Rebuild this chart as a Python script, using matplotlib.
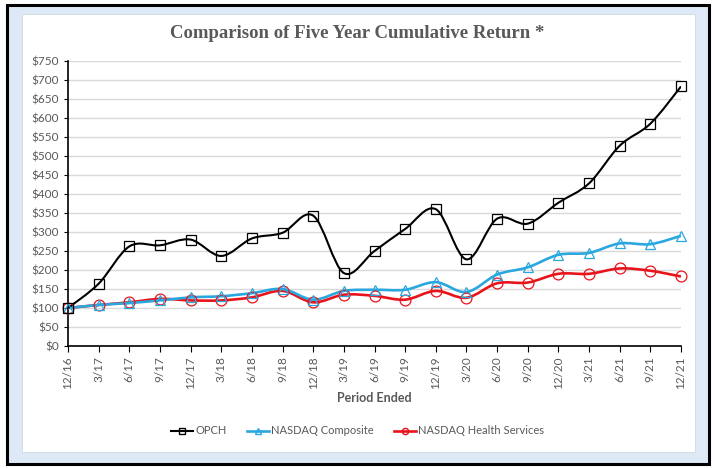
import matplotlib
matplotlib.use("Agg")
import matplotlib.pyplot as plt
import numpy as np
from matplotlib.path import Path
from matplotlib.patches import PathPatch, Rectangle
from matplotlib.lines import Line2D

periods = ["12/16", "3/17", "6/17", "9/17", "12/17", "3/18", "6/18", "9/18", "12/18",
           "3/19", "6/19", "9/19", "12/19", "3/20", "6/20", "9/20", "12/20",
           "3/21", "6/21", "9/21", "12/21"]
opch = [100, 164, 262, 265, 280, 237, 283, 298, 343, 192, 250, 308, 360, 228, 335,
        322, 377, 428, 527, 585, 683]
nasdaq_comp = [100, 108, 113, 120, 128, 131, 139, 150, 122, 145, 148, 148, 168, 142,
               188, 207, 240, 245, 270, 268, 290]
nasdaq_health = [100, 108, 115, 124, 120, 120, 128, 145, 115, 135, 132, 122, 145, 127,
                 165, 167, 190, 190, 204, 198, 183]
y_ticks = list(range(0, 751, 50))

GRAY = "#595959"
plt.rcParams['font.family'] = ['Lato', 'DejaVu Sans']


def smooth_path(xs, ys):
    # Excel style smoothed line: Catmull-Rom segments as cubic Beziers
    pts = np.column_stack([xs, ys]).astype(float)
    n = len(pts)
    verts = [pts[0]]
    codes = [Path.MOVETO]
    for i in range(n - 1):
        p0 = pts[max(i - 1, 0)]
        p1 = pts[i]
        p2 = pts[i + 1]
        p3 = pts[min(i + 2, n - 1)]
        verts += [p1 + (p2 - p0) / 6, p2 - (p3 - p1) / 6, p2]
        codes += [Path.CURVE4] * 3
    return Path(verts, codes)


fig = plt.figure(figsize=(7.15, 4.68), dpi=100)
fig.patch.set_facecolor("white")
# outer frame: black border, light blue band, white panel
fig.patches.append(Rectangle((7 / 715, 4 / 468), 702 / 715, 459 / 468, transform=fig.transFigure,
                             facecolor="#dde9f6", edgecolor="black", linewidth=2.2, zorder=-2))
fig.patches.append(Rectangle((22 / 715, 16 / 468), 673 / 715, 438 / 468, transform=fig.transFigure,
                             facecolor="white", edgecolor="#d0d8e0", linewidth=0.6, zorder=-1))

ax = fig.add_axes([68 / 715, 1 - 346 / 468, 613 / 715, 285 / 468])
ax.set_facecolor("none")
x = np.arange(len(periods))

series = [
    (opch, "OPCH", "black", "s", 7.5, 1.5),
    (nasdaq_comp, "NASDAQ Composite", "#2aa7de", "^", 7.5, 1.9),
    (nasdaq_health, "NASDAQ Health Services", "#e8141c", "o", 7.8, 1.9),
]
handles = []
for vals, name, color, mk, ms, lw in series[::-1]:
    ax.add_patch(PathPatch(smooth_path(x, vals), facecolor="none", edgecolor=color,
                           linewidth=lw, zorder=3))
    ax.plot(x, vals, linestyle="none", marker=mk, markersize=ms, markerfacecolor="none",
            markeredgecolor=color, markeredgewidth=0.9, zorder=4, clip_on=False)
for vals, name, color, mk, ms, lw in series:
    handles.append(Line2D([], [], color=color, linewidth=lw, marker=mk, markersize=4.5,
                          markerfacecolor="none", markeredgecolor=color, label=name))

ax.set_xlim(0, len(periods) - 1)
ax.set_ylim(0, 750)
ax.set_yticks(y_ticks)
ax.set_yticklabels([f"${v}" for v in y_ticks])
ax.set_xticks(x)
ax.set_xticklabels(periods, rotation=90)
ax.grid(axis="y", color="#d9d9d9", linewidth=1.0)
ax.set_axisbelow(True)
for side in ["top", "right"]:
    ax.spines[side].set_visible(False)
ax.spines["left"].set_color("black")
ax.spines["bottom"].set_color("black")
ax.spines["left"].set_linewidth(1.2)
ax.spines["bottom"].set_linewidth(1.2)
ax.tick_params(axis="both", labelsize=8.5, colors=GRAY, length=4, width=0.8)
ax.tick_params(axis="both", color="black")
ax.tick_params(axis="y", length=3)
ax.set_xlabel("Period Ended", fontsize=9, fontweight="bold", color=GRAY, labelpad=2)

fig.text(0.5, 1 - 34 / 468, "Comparison of Five Year Cumulative Return *", ha="center", va="center",
         fontsize=13.5, fontweight="bold", color=GRAY, family=["Liberation Serif", "DejaVu Serif"])

fig.legend(handles=handles, loc="center", bbox_to_anchor=(0.5, 1 - 431 / 468), ncol=3,
           frameon=False, fontsize=8, labelcolor=GRAY, handlelength=2.0, columnspacing=1.8,
           handletextpad=0.2)

fig.savefig("out.png", dpi=100)
